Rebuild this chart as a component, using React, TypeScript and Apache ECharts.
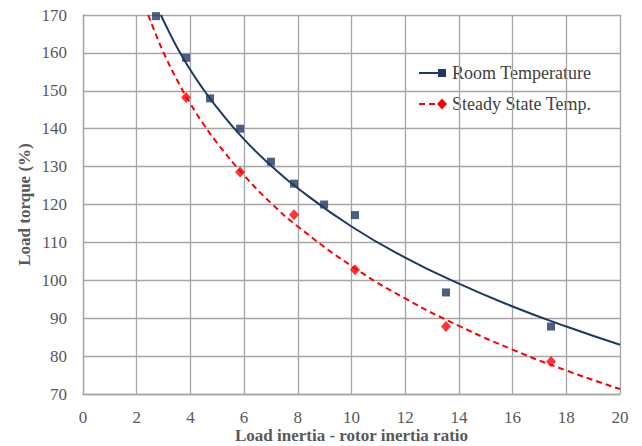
import React, { useEffect, useRef } from "react";
import * as echarts from "echarts";

// Measured points
const roomX = [2.72, 3.84, 4.73, 5.85, 7.0, 7.86, 8.98, 10.13, 13.52, 17.43];
const roomY = [169.7, 158.7, 148.0, 140.0, 131.3, 125.5, 120.0, 117.2, 96.8, 87.8];
const steadyX = [3.84, 5.85, 7.86, 10.13, 13.52, 17.43];
const steadyY = [148.2, 128.6, 117.3, 102.8, 87.8, 78.6];

// Trend lines
const roomTrendX = [2.9, 3, 3.5, 4, 4.5, 5, 6, 7, 8, 10, 12, 14, 16, 18, 20];
const roomTrendY = [170.0, 168.5, 161.5, 155.5, 150.2, 145.5, 137.2, 130.3, 124.3, 114.2, 106.0, 99.1, 93.1, 87.8, 83.0];
const steadyTrendX = [2.43, 2.7, 3, 3.5, 4, 4.5, 5, 6, 7, 8, 10, 12, 14, 16, 18, 20];
const steadyTrendY = [170.0, 165.1, 160.1, 152.9, 146.6, 141.1, 136.2, 127.7, 120.4, 114.2, 103.8, 95.2, 88.0, 81.7, 76.2, 71.3];

const seriesNames = ["Room Temperature", "Steady State Temp."];
const xTitle = "Load inertia - rotor inertia ratio";
const yTitle = "Load torque (%)";

const NAVY = "#1f3864";
const RED = "#ff0000";
const GRID = "#a6a6a6";
const TXT = "#595959";
const FONT = "Liberation Serif";

const zip = (xs: number[], ys: number[]) => xs.map((x, i) => [x, ys[i]]);

const labelStyle = {
  fontFamily: FONT,
  fontSize: 17,
  fontWeight: "normal",
  color: TXT,
  rich: { v: { fontFamily: FONT, fontSize: 17, color: TXT } },
  formatter: "{v|{value}}",
};

export default function App() {
  const ref = useRef<HTMLDivElement>(null);
  useEffect(() => {
    if (!ref.current) return;
    const chart = echarts.init(ref.current, undefined, { renderer: "svg" });
    chart.setOption({
      animation: false,
      backgroundColor: "#ffffff",
      textStyle: { fontFamily: FONT },
      grid: { left: 83, right: 22, top: 15, bottom: 52, containLabel: false, outerBoundsMode: "none" },
      xAxis: {
        type: "value",
        min: 0,
        max: 20,
        interval: 2,
        name: xTitle,
        nameLocation: "middle",
        nameGap: 33,
        nameMoveOverlap: false,
        nameTextStyle: { fontFamily: FONT, fontSize: 17, fontWeight: "bold", color: TXT },
        axisLine: { lineStyle: { color: GRID, width: 1.3 } },
        axisTick: { show: false },
        axisLabel: { ...labelStyle, margin: 15 },
        splitLine: { show: true, lineStyle: { color: GRID, width: 1.3 } },
      },
      yAxis: {
        type: "value",
        min: 70,
        max: 170,
        interval: 10,
        name: yTitle,
        nameLocation: "middle",
        nameGap: 50,
        nameMoveOverlap: false,
        nameTextStyle: { fontFamily: FONT, fontSize: 17, fontWeight: "bold", color: TXT },
        axisLine: { show: true, lineStyle: { color: GRID, width: 1.3 } },
        axisTick: { show: false },
        axisLabel: { ...labelStyle, margin: 16 },
        splitLine: { show: true, lineStyle: { color: GRID, width: 1.3 } },
      },
      series: [
        {
          name: seriesNames[0] + " trend",
          type: "line",
          data: zip(roomTrendX, roomTrendY),
          smooth: true,
          showSymbol: false,
          symbol: "none",
          lineStyle: { color: NAVY, width: 2 },
          z: 2,
        },
        {
          name: seriesNames[1] + " trend",
          type: "line",
          data: zip(steadyTrendX, steadyTrendY),
          smooth: true,
          showSymbol: false,
          symbol: "none",
          lineStyle: { color: RED, width: 2, type: [6, 4] },
          z: 2,
        },
        {
          name: seriesNames[0],
          type: "scatter",
          data: zip(roomX, roomY),
          symbol: "rect",
          symbolSize: 8,
          itemStyle: { color: NAVY },
          z: 3,
        },
        {
          name: seriesNames[1],
          type: "scatter",
          data: zip(steadyX, steadyY),
          symbol: "diamond",
          symbolSize: [10, 11],
          itemStyle: { color: RED },
          z: 3,
        },
      ],
      graphic: [
        { type: "line", shape: { x1: 419, y1: 73, x2: 446, y2: 73 }, style: { stroke: NAVY, lineWidth: 2 } },
        { type: "rect", shape: { x: 438, y: 69, width: 8, height: 8 }, style: { fill: NAVY } },
        {
          type: "text",
          x: 452,
          y: 73,
          style: { text: seriesNames[0], fontFamily: FONT, fontSize: 18, fill: "#404040", verticalAlign: "middle" },
        },
        { type: "line", shape: { x1: 419, y1: 104, x2: 446, y2: 104 }, style: { stroke: RED, lineWidth: 2, lineDash: [6, 4] } },
        { type: "polygon", shape: { points: [[442, 98.5], [447, 104], [442, 109.5], [437, 104]] }, style: { fill: RED } },
        {
          type: "text",
          x: 452,
          y: 104,
          style: { text: seriesNames[1], fontFamily: FONT, fontSize: 18, fill: "#404040", verticalAlign: "middle" },
        },
      ],
    });
    return () => chart.dispose();
  }, []);
  return <div ref={ref} style={{ width: 642, height: 446, position: "absolute", left: 0, top: 0 }} />;
}
